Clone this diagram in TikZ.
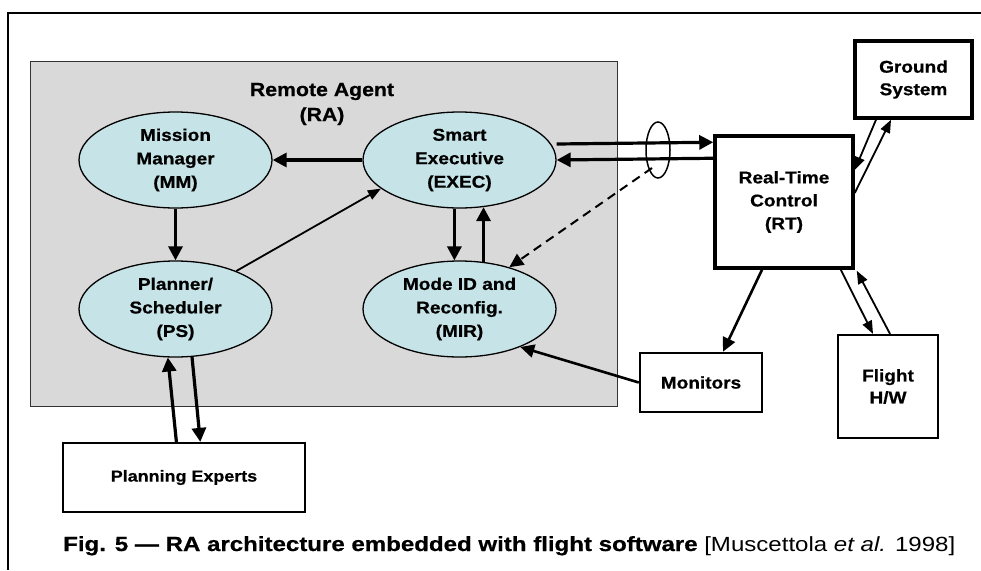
\documentclass[tikz,border=0pt]{standalone}
\usepackage{fontspec}
\usepackage{graphicx}
\setmainfont{Liberation Sans}[FakeStretch=1.12, BoldFeatures={FakeBold=0.6}]
\newfontfamily\capfont{Liberation Sans}[BoldFeatures={FakeBold=0.6}]
\usetikzlibrary{arrows.meta,shapes.geometric}
\definecolor{ragray}{HTML}{D9D9D9}
\definecolor{ellfill}{HTML}{C6E4E8}
\tikzset{
  comp/.style={ellipse, draw, line width=1.3pt, fill=ellfill, minimum width=193pt, minimum height=96pt, inner sep=0pt, align=center, font=\bfseries\fontsize{17}{23.5}\selectfont},
  bigbox/.style={rectangle, draw, line width=3.5pt, inner sep=0pt, align=center, font=\bfseries\fontsize{17}{23}\selectfont},
  smallbox/.style={rectangle, draw, line width=2.2pt, inner sep=0pt, align=center, font=\bfseries\fontsize{17}{22}\selectfont},
  bigarrow/.style={line width=3.2pt, -{Triangle[length=14pt,width=14pt]}},
  medarrow/.style={line width=2.6pt, -{Triangle[length=14pt,width=13pt]}},
  smallarrow/.style={line width=1.8pt, -{Triangle[length=13pt,width=10pt]}},
  dasharrow/.style={line width=2pt, dash pattern=on 9pt off 6pt, -{Triangle[length=14pt,width=13pt]}},
}
\begin{document}
\begin{tikzpicture}[x=1pt,y=-1pt]
\useasboundingbox (0,0) rectangle (981,570);
\draw[line width=1.5pt] (8,570) -- (8,13) -- (981,13);
\node[rectangle, draw=black!80, line width=1pt, fill=ragray, minimum width=587pt, minimum height=345pt, inner sep=0pt] (ra) at (323.5,233.5) {};
\node[font=\bfseries\fontsize{19}{25}\selectfont, align=center] (ratitle) at (322,104) {Remote Agent\\(RA)};
\node[comp] (mm) at (175.5,160) {Mission\\Manager\\(MM)};
\node[comp] (exec) at (459.5,160) {Smart\\Executive\\(EXEC)};
\node[comp] (ps) at (175.5,309) {Planner/\\Scheduler\\(PS)};
\node[comp] (mir) at (459.5,309) {Mode ID and\\Reconfig.\\(MIR)};
\node[bigbox, minimum width=138pt, minimum height=132pt] (rt) at (784,202) {Real-Time\\Control\\(RT)};
\node[bigbox, minimum width=117pt, minimum height=77pt, font=\bfseries\fontsize{17}{22.5}\selectfont] (ground) at (913.5,79.5) {Ground\\System};
\node[smallbox, minimum width=100pt, minimum height=103pt] (flight) at (888,386.5) {Flight\\H/W};
\node[smallbox, minimum width=122pt, minimum height=59pt, line width=2.5pt] (mon) at (701,382.5) {Monitors};
\node[smallbox, minimum width=242pt, minimum height=69pt, font=\bfseries\fontsize{16}{20}\selectfont] (pe) at (184,477.5) {Planning Experts};
\node[ellipse, draw, line width=1.5pt, minimum width=24pt, minimum height=56pt, inner sep=0pt] (cable) at (658,150) {};
% arrows inside RA
\draw[bigarrow] (exec.west) -- (mm.east);
\draw[bigarrow] (mm.south) -- (ps.north);
\draw[smallarrow] (ps.32) -- (exec.200);
\draw[bigarrow] (exec.-96) -- (mir.96);
\draw[bigarrow] (mir.63) -- (exec.-63);
% planning experts
\draw[bigarrow] ([xshift=-7.6pt]pe.north) -- (ps.-99);
\draw[bigarrow] (ps.-71) -- ([xshift=16.3pt]pe.north);
% exec <-> rt
\draw[bigarrow] ([yshift=16pt]exec.east) -- ([yshift=-8pt]rt.north west);
\draw[bigarrow] ([yshift=-24pt]rt.north west) -- (exec.east);
\draw[dasharrow] ([xshift=-6pt,yshift=-18pt]cable.center) -- (mir.40);
% monitors
\draw[medarrow] (mon.west) -- (mir.-32);
\draw[medarrow] ([xshift=-22pt]rt.south) -- ([xshift=22pt]mon.north);
% flight h/w
\draw[smallarrow] ([xshift=-14pt]rt.south east) -- ([xshift=-15pt]flight.north);
\draw[smallarrow] ([xshift=2pt]flight.north) -- ([xshift=2pt,yshift=-1pt]rt.south east);
% ground
\draw[smallarrow] ([xshift=-37.5pt]ground.south) -- ([yshift=32pt]rt.east);
\draw[smallarrow] ([yshift=9pt]rt.east) -- ([xshift=-22.5pt]ground.south);
% caption
\node[anchor=base west, inner sep=0pt] (cap) at (63,551) {\resizebox{892pt}{\height}{\capfont\fontsize{20.5}{24}\selectfont\textbf{Fig. 5 — RA architecture embedded with flight software} [Muscettola \textit{et al.} 1998]}};
\end{tikzpicture}
\end{document}
